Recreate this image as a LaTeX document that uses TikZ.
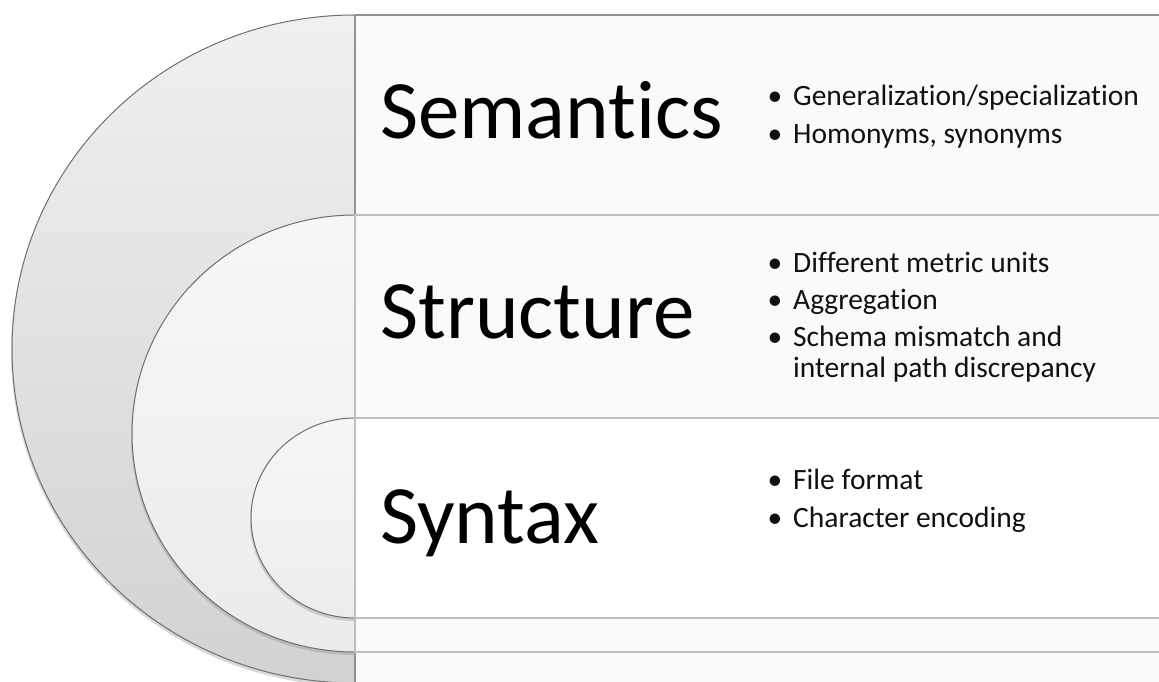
\documentclass[tikz,border=0pt]{standalone}
\usepackage{fontspec}
\setmainfont{Carlito}[Ligatures=NoCommon]
\usetikzlibrary{shadows}
\definecolor{outerTop}{HTML}{F0F0F0}
\definecolor{outerBot}{HTML}{D2D2D2}
\definecolor{midTop}{HTML}{F7F7F7}
\definecolor{midBot}{HTML}{EBEBEB}
\definecolor{innTop}{HTML}{F6F6F6}
\definecolor{innBot}{HTML}{EDEDED}
\definecolor{arcLine}{HTML}{6E6E6E}
\definecolor{outerLine}{HTML}{929292}
\definecolor{innerLine}{HTML}{BEBEBE}
\definecolor{bandFill}{HTML}{FAFAFA}
\definecolor{txt}{HTML}{111111}
\newcommand\bulmark{\llap{\textbullet\hspace{11pt}}}
\tikzset{
  arcshape/.style={draw=arcLine, line width=1pt,
    drop shadow={shadow xshift=-1pt, shadow yshift=-3pt, opacity=0.3}},
  bandrect/.style={fill=bandFill, line width=1.5pt},
  biglabel/.style={anchor=base west, inner sep=0pt, text=black,
    font=\fontsize{83}{83}\selectfont},
  itemline/.style={anchor=base west, inner sep=0pt, text=txt,
    font=\fontsize{29.5}{31}\selectfont}
}
\begin{document}
\begin{tikzpicture}[x=1pt,y=-1pt]
\useasboundingbox (0,0) rectangle (1159,682);
\fill[white] (0,0) rectangle (1159,682);
% outer level
\path[arcshape, top color=outerTop, bottom color=outerBot]
  (355,15) arc[start angle=90, end angle=270, x radius=343pt, y radius=334pt] -- cycle;
\draw[bandrect, draw=outerLine] (355,15) rectangle (1170,683);
% middle level
\path[arcshape, top color=midTop, bottom color=midBot]
  (355,215) arc[start angle=90, end angle=270, x radius=223pt, y radius=218.5pt] -- cycle;
\draw[bandrect, draw=innerLine] (355,215) rectangle (1170,652);
% inner level
\path[arcshape, top color=innTop, bottom color=innBot]
  (355,418) arc[start angle=90, end angle=270, x radius=104pt, y radius=100pt] -- cycle;
\draw[bandrect, draw=innerLine, fill=white] (355,418) rectangle (1170,618);
% labels
\node[biglabel] (sem) at (380,139) {Semantics};
\node[biglabel] (str) at (380,338) {Structure};
\node[biglabel] (syn) at (380,543) {Syntax};
% bullets
\node[itemline] (s1) at (793,106) {\bulmark Generalization/specialization};
\node[itemline] (s2) at (793,143) {\bulmark Homonyms, synonyms};
\node[itemline] (t1) at (793,272) {\bulmark Different metric units};
\node[itemline] (t2) at (793,309) {\bulmark Aggregation};
\node[itemline] (t3) at (793,346) {\bulmark Schema mismatch and};
\node[itemline] (t4) at (793,377) {internal path discrepancy};
\node[itemline] (y1) at (793,489) {\bulmark File format};
\node[itemline] (y2) at (793,527) {\bulmark Character encoding};
\end{tikzpicture}
\end{document}
